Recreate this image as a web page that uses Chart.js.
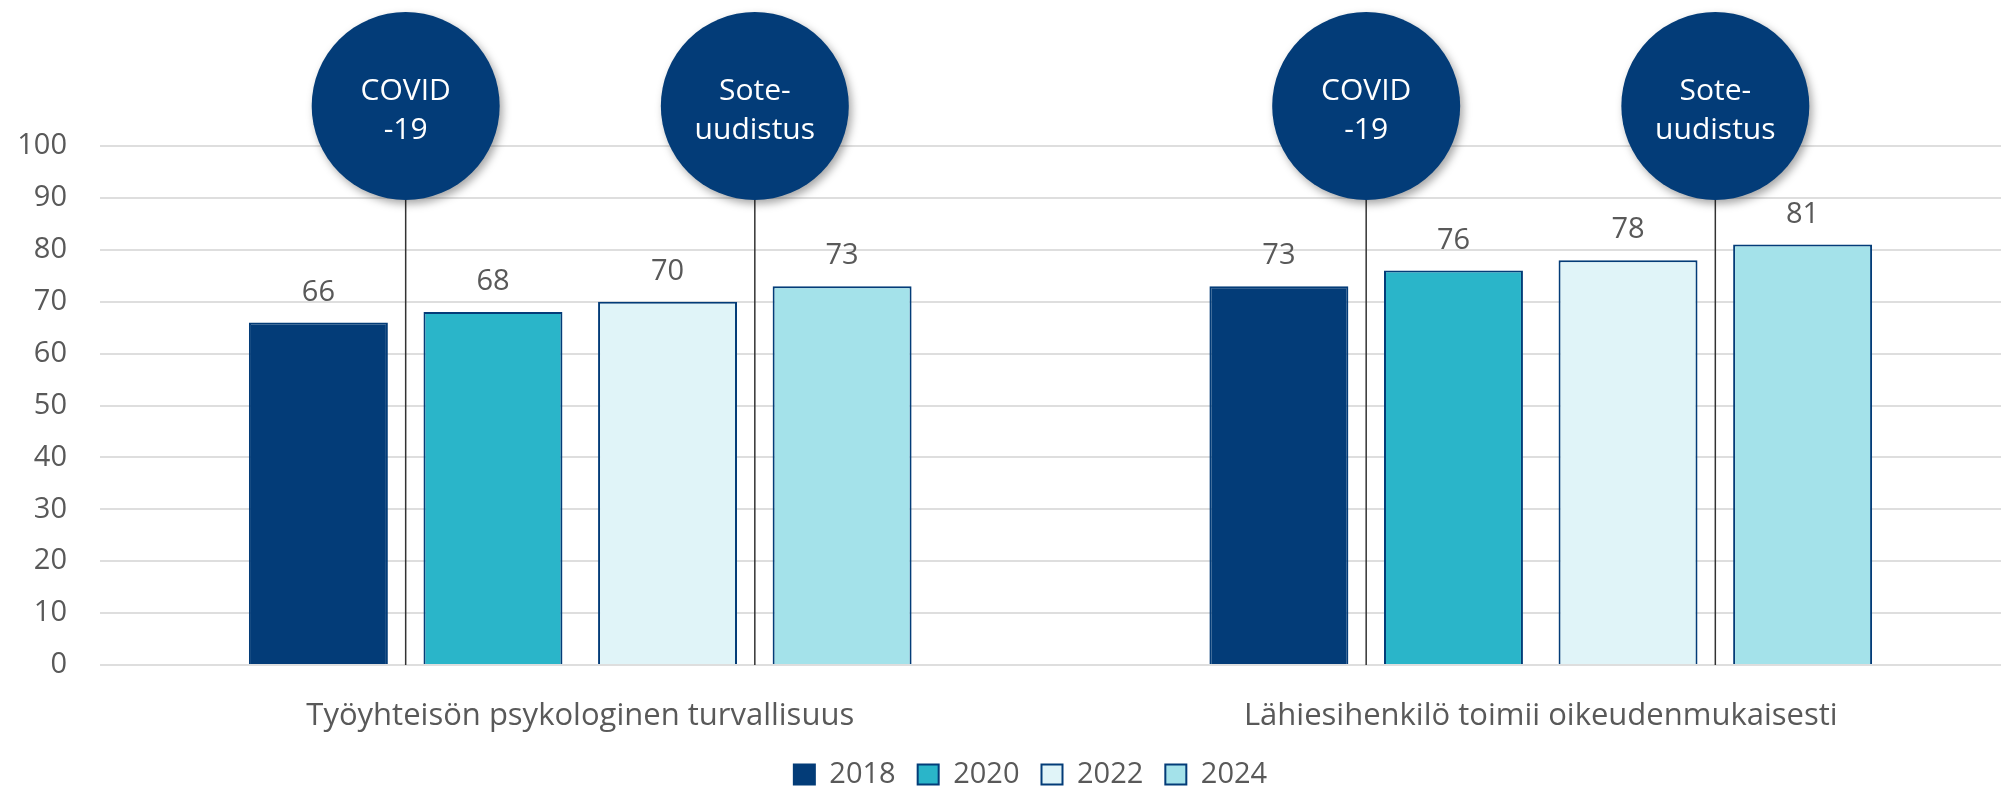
<!DOCTYPE html>
<html lang="fi">
<head>
    <meta charset="UTF-8">
    <title>Työhyvinvointi 2018–2024</title>
    <script src="https://cdn.jsdelivr.net/npm/chart.js"></script>
    <style>
        body {
            margin: 0;
            padding: 0;
            background: #fff;
            overflow: hidden;
        }
        /* plot area runs a little past the right edge, like in the original crop */
        #wrap {
            width: 2021px;
            height: 787px;
        }
    </style>
</head>
<body>
    <div id="wrap"><canvas id="chart" width="2021" height="787"></canvas></div>
    <script>
        const categories = ['Työyhteisön psykologinen turvallisuus', 'Lähiesihenkilö toimii oikeudenmukaisesti'];
        const years = ['2018', '2020', '2022', '2024'];
        const values2018 = [66, 73];
        const values2020 = [68, 76];
        const values2022 = [70, 78];
        const values2024 = [73, 81];
        // event markers sit between two consecutive years
        const events = [
            { text: ['COVID', '-19'], between: [0, 1] },
            { text: ['Sote-', 'uudistus'], between: [2, 3] }
        ];

        const NAVY = '#033c78';
        const GREY = '#595959';
        const FONT = "'Open Sans', 'Noto Sans', sans-serif";

        const seriesValues = [values2018, values2020, values2022, values2024];
        const fills = [NAVY, '#2ab5c9', '#e0f4f8', '#a4e2ea'];

        const datasets = years.map((y, i) => ({
            label: y,
            data: seriesValues[i],
            backgroundColor: fills[i],
            borderColor: NAVY,
            borderWidth: 2,
            categoryPercentage: 0.727,
            barPercentage: 0.796
        }));

        // value labels above the bars
        const valueLabels = {
            id: 'valueLabels',
            afterDatasetsDraw(chart) {
                const ctx = chart.ctx;
                ctx.save();
                ctx.font = '29px ' + FONT;
                ctx.fillStyle = GREY;
                ctx.textAlign = 'center';
                ctx.textBaseline = 'middle';
                chart.data.datasets.forEach((ds, i) => {
                    chart.getDatasetMeta(i).data.forEach((bar, j) => {
                        ctx.fillText(ds.data[j], bar.x, bar.y - 30);
                    });
                });
                ctx.restore();
            }
        };

        // vertical event lines with the round badges on top
        const eventMarkers = {
            id: 'eventMarkers',
            afterDatasetsDraw(chart) {
                const ctx = chart.ctx;
                const area = chart.chartArea;
                const r = 94;
                const cy = area.top - 40;
                ctx.save();
                categories.forEach((c, j) => {
                    events.forEach(ev => {
                        const a = chart.getDatasetMeta(ev.between[0]).data[j];
                        const b = chart.getDatasetMeta(ev.between[1]).data[j];
                        const x = (a.x + b.x) / 2;

                        ctx.strokeStyle = '#333';
                        ctx.lineWidth = 1.5;
                        ctx.beginPath();
                        ctx.moveTo(x, cy);
                        ctx.lineTo(x, area.bottom);
                        ctx.stroke();

                        ctx.save();
                        ctx.shadowColor = 'rgba(0,0,0,0.35)';
                        ctx.shadowBlur = 8;
                        ctx.shadowOffsetX = 3;
                        ctx.shadowOffsetY = 4;
                        ctx.fillStyle = NAVY;
                        ctx.beginPath();
                        ctx.arc(x, cy, r, 0, Math.PI * 2);
                        ctx.fill();
                        ctx.restore();

                        ctx.fillStyle = '#fff';
                        ctx.font = '30px ' + FONT;
                        ctx.textAlign = 'center';
                        ctx.textBaseline = 'middle';
                        ctx.fillText(ev.text[0], x, cy - 15);
                        ctx.fillText(ev.text[1], x, cy + 24);
                    });
                });
                ctx.restore();
            }
        };

        // nudge legend down/right, and let the category labels use the room below the axis
        const legendNudge = {
            id: 'legendNudge',
            afterLayout(chart) {
                const l = chart.legend;
                l.top += 12; l.bottom += 12;
                l.left += 20; l.right += 20;
                chart.scales.x.bottom += 20;
            }
        };

        const chart = new Chart(document.getElementById('chart'), {
            type: 'bar',
            data: { labels: categories, datasets: datasets },
            options: {
                responsive: false,
                animation: false,
                layout: { padding: { top: 146, left: 0, right: 0, bottom: 0 } },
                scales: {
                    x: {
                        grid: { display: false },
                        border: { display: false },
                        ticks: { color: GREY, font: { size: 31, family: FONT }, padding: 25 },
                        afterFit(s) { s.height = 61; }
                    },
                    y: {
                        min: 0,
                        max: 100,
                        ticks: { stepSize: 10, color: GREY, font: { size: 29, family: FONT }, padding: 33 },
                        grid: { color: '#dedede', lineWidth: 2, drawTicks: false },
                        border: { display: false },
                        afterFit(s) { s.width = 100; }
                    }
                },
                plugins: {
                    legend: {
                        position: 'bottom',
                        labels: {
                            color: GREY,
                            font: { size: 29, family: FONT },
                            boxWidth: 21,
                            boxHeight: 20,
                            padding: 22
                        }
                    },
                    tooltip: { enabled: false }
                }
            },
            plugins: [valueLabels, eventMarkers, legendNudge]
        });
    </script>
</body>
</html>
